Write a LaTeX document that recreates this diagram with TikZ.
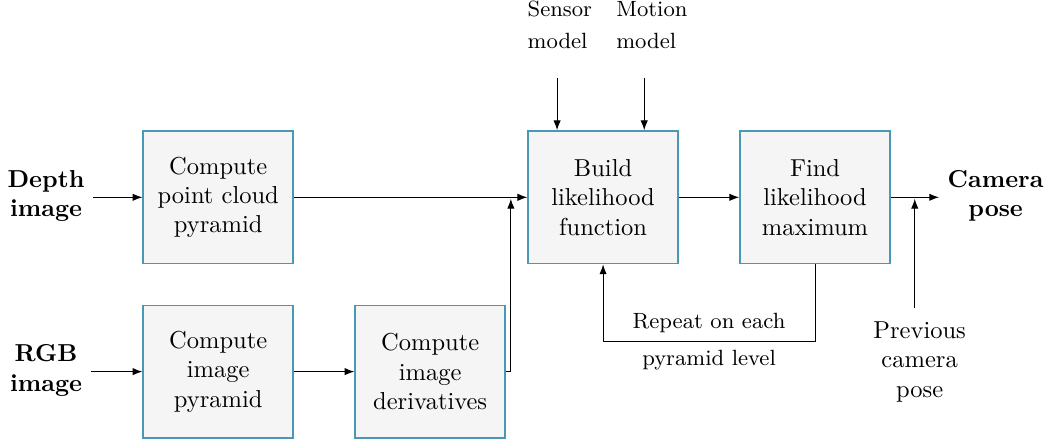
\documentclass[tikz,border=0pt]{standalone}
\usepackage{xcolor}
\usepackage{amsmath}
\usepackage{amssymb}
\usetikzlibrary{arrows.meta}
\definecolor{boxedge}{RGB}{72,152,182}

\begin{document}
\begin{tikzpicture}[>={Latex[length=4pt,width=3pt]},
        stage/.style={draw=boxedge, line width=0.7pt, rectangle, fill=black!4, minimum width=2.15cm, minimum height=1.9cm, align=center},
        io/.style={align=center, font=\bfseries},
        side/.style={align=left, font=\small}]
        \useasboundingbox (0,0) rectangle (15.06,6.31);

        \node[io] (depth) at (0.66,3.5) {Depth\\image};
        \node[io] (rgb) at (0.66,1.0) {RGB\\image};
        \node[io] (camera) at (14.28,3.5) {Camera\\pose};

        \node[stage] (cloud) at (3.13,3.48) {Compute\\point cloud\\pyramid};
        \node[stage] (impyr) at (3.13,0.98) {Compute\\image\\pyramid};
        \node[stage] (deriv) at (6.17,0.98) {Compute\\image\\derivatives};
        \node[stage] (build) at (8.65,3.48) {Build\\likelihood\\function};
        \node[stage] (find) at (11.69,3.48) {Find\\likelihood\\maximum};

        \node[side] (sensor) at (8.03,5.95) {Sensor\\[2pt]model};
        \node[side] (motion) at (9.35,5.95) {Motion\\[2pt]model};
        \node[align=center] (prev) at (13.19,1.12) {Previous\\camera\\pose};

        \coordinate (sensorin) at (7.99,5.19);
        \coordinate (motionin) at (9.24,5.19);
        \coordinate (prevup) at (13.12,1.89);

        \draw[->] (depth.east |- cloud.west) -- (cloud);
        \draw[->] (rgb.east |- impyr.west) -- (impyr);
        \draw[->] (cloud) -- (build);
        \draw[->] (impyr) -- (deriv);
        \draw[->] (deriv.east) -- ++(0.07,0) coordinate (dturn) -- ([yshift=-0.6pt]dturn |- build.west);
        \draw[->] (build) -- (find);
        \draw[->] (find) -- (find.east -| camera.west);
        \draw[->] (sensorin) -- (sensorin |- build.north);
        \draw[->] (motionin) -- (motionin |- build.north);
        \draw[->] (prevup) -- ([yshift=-0.6pt]prevup |- find.east);
        \draw[->] (find.south) -- ++(0,-1.1) coordinate (loopr) -- (loopr -| build.south)
            node[midway, above, font=\small] {Repeat on each}
            node[midway, below, font=\small] {pyramid level} -- (build.south);
    \end{tikzpicture}
\end{document}
